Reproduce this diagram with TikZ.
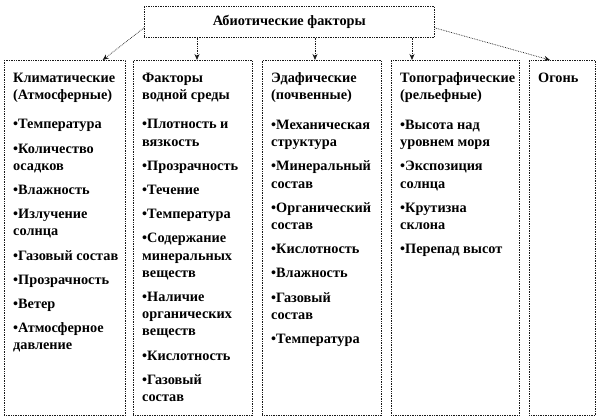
\documentclass[tikz,border=0pt]{standalone}
\usepackage{fontspec}
\setmainfont{Liberation Serif}
\usetikzlibrary{arrows.meta}
\begin{document}
\begin{tikzpicture}[x=1pt,y=-1pt,
  box/.style={draw=black!90, densely dotted, line width=0.7pt, inner sep=0pt, anchor=north west},
  txt/.style={anchor=north west, align=left, inner sep=0pt, font=\fontsize{14.3}{17.2}\selectfont\bfseries},
  arr/.style={draw=black!90, densely dotted, line width=0.7pt, -{Stealth[length=6pt,width=5pt]}}]
\useasboundingbox (0,0) rectangle (603,417);
% top box
\node[box, minimum width=290pt, minimum height=31pt] (top) at (144,6) {};
\node[txt, anchor=center] (title) at (top.center) {Абиотические факторы};
% column boxes
\node[box, minimum width=121pt, minimum height=355pt] (c1) at (4,60) {};
\node[box, minimum width=119pt, minimum height=355pt] (c2) at (133,60) {};
\node[box, minimum width=119pt, minimum height=355pt] (c3) at (262,60) {};
\node[box, minimum width=128pt, minimum height=355pt] (c4) at (391,60) {};
\node[box, minimum width=66pt, minimum height=355pt] (c5) at (529,60) {};
% texts
\node[txt] (t1) at (13,72.5) {Климатические\\(Атмосферные)\\[12.5pt]•Температура\\[7pt]•Количество\\осадков\\[7pt]•Влажность\\[7pt]•Излучение\\солнца\\[7pt]•Газовый состав\\[7pt]•Прозрачность\\[7pt]•Ветер\\[7pt]•Атмосферное\\давление};
\node[txt] (t2) at (142,72.5) {Факторы\\водной среды\\[12.5pt]•Плотность и\\вязкость\\[7pt]•Прозрачность\\[7pt]•Течение\\[7pt]•Температура\\[7pt]•Содержание\\минеральных\\веществ\\[7pt]•Наличие\\органических\\веществ\\[7pt]•Кислотность\\[7pt]•Газовый\\состав};
\node[txt] (t3) at (271,72.5) {Эдафические\\(почвенные)\\[12.5pt]•Механическая\\структура\\[7pt]•Минеральный\\состав\\[7pt]•Органический\\состав\\[7pt]•Кислотность\\[7pt]•Влажность\\[7pt]•Газовый\\состав\\[7pt]•Температура};
\node[txt] (t4) at (400,72.5) {Топографические\\(рельефные)\\[12.5pt]•Высота над\\уровнем моря\\[7pt]•Экспозиция\\солнца\\[7pt]•Крутизна\\склона\\[7pt]•Перепад высот};
\node[txt] (t5) at (538,72.5) {Огонь};
% arrows
\draw[arr] ([yshift=-6pt]top.west) -- ([xshift=-23pt]c1.north east);
\draw[arr] (top.south -| 197,0) -- (c2.north -| 197,0);
\draw[arr] (top.south -| 315,0) -- (c3.north -| 315,0);
\draw[arr] (top.south -| 412,0) -- (c4.north -| 412,0);
\draw[arr] ([yshift=-6pt]top.east) -- ([xshift=21pt]c5.north west);
\end{tikzpicture}
\end{document}
